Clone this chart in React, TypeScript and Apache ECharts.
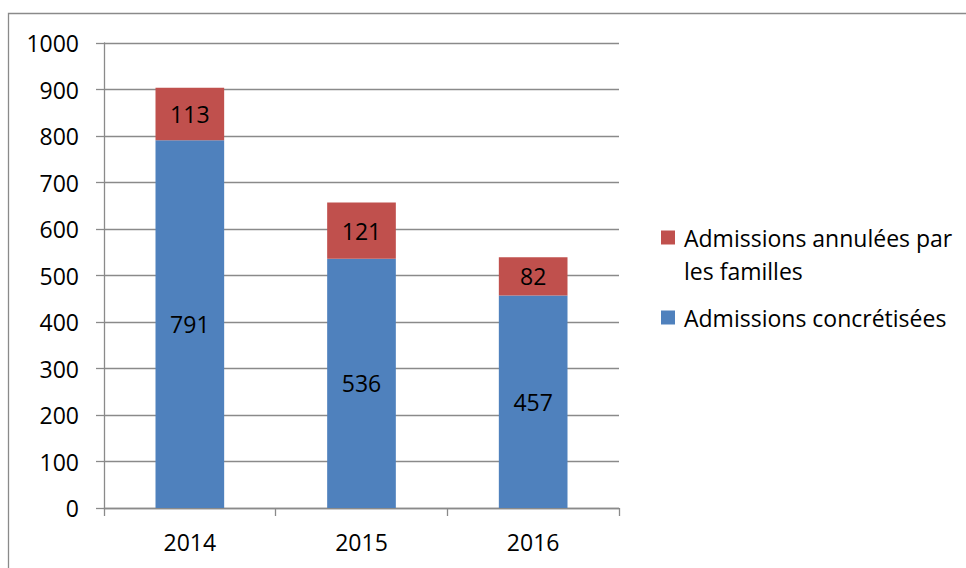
import React, { useEffect, useRef } from "react";
import * as echarts from "echarts";

const categories = ["2014", "2015", "2016"];
const concretisees = [791, 536, 457];
const annulees = [113, 121, 82];
const nameAnnulees = "Admissions annulées par les familles";
const nameConcretisees = "Admissions concrétisées";

const FONT = "'Open Sans', sans-serif";
const FS = 23;
const GRAY = "#8a8a8a";
const LH = 33;

export default function App() {
  const ref = useRef<HTMLDivElement>(null);
  useEffect(() => {
    if (!ref.current) return;
    const chart = echarts.init(ref.current, null, { renderer: "svg" });
    chart.setOption({
      animation: false,
      backgroundColor: "#ffffff",
      textStyle: { fontFamily: FONT, color: "#000" },
      graphic: [
        {
          type: "rect",
          shape: { x: 8.5, y: 13.5, width: 1200, height: 1200 },
          style: { fill: "none", stroke: GRAY, lineWidth: 1.3 },
          silent: true,
        },
      ],
      grid: { left: 104, top: 43, right: 347, bottom: 60, containLabel: false },
      legend: [
        {
          data: [nameAnnulees],
          orient: "vertical",
          left: 661,
          top: 188,
          padding: 0,
          itemWidth: 14,
          itemHeight: 14,
          icon: "rect",
          formatter: (n: string) => "\n" + n.replace(" les", "\nles"),
          textStyle: {
            fontFamily: FONT,
            fontSize: FS,
            color: "#000",
            lineHeight: LH,
            padding: [0, 0, 0, 4],
          },
        },
        {
          data: [nameConcretisees],
          orient: "vertical",
          left: 661,
          top: 301,
          padding: 0,
          itemWidth: 14,
          itemHeight: 14,
          icon: "rect",
          textStyle: {
            fontFamily: FONT,
            fontSize: FS,
            color: "#000",
            lineHeight: LH,
            padding: [0, 0, 0, 4],
          },
        },
      ],
      xAxis: {
        type: "category",
        data: categories,
        boundaryGap: true,
        axisLine: { show: true, lineStyle: { color: GRAY, width: 1.3 } },
        axisTick: { show: true, length: 8, lineStyle: { color: GRAY, width: 1.3 } },
        axisLabel: { fontFamily: FONT, fontSize: FS, color: "#000", margin: 22 },
      },
      yAxis: {
        type: "value",
        min: 0,
        max: 1000,
        interval: 100,
        axisLine: { show: true, lineStyle: { color: GRAY, width: 1.3 } },
        axisTick: { show: true, length: 8, lineStyle: { color: GRAY, width: 1.3 } },
        splitLine: { show: true, lineStyle: { color: GRAY, width: 1.3 } },
        axisLabel: {
          fontFamily: FONT,
          fontSize: FS,
          color: "#000",
          margin: 25,
          formatter: (v: number) => String(v),
        },
      },
      series: [
        {
          name: nameConcretisees,
          type: "bar",
          stack: "total",
          data: concretisees,
          barCategoryGap: "60%",
          itemStyle: { color: "#4F81BD" },
          label: { show: true, position: "inside", color: "#000", fontFamily: FONT, fontSize: FS },
        },
        {
          name: nameAnnulees,
          type: "bar",
          stack: "total",
          data: annulees,
          barCategoryGap: "60%",
          itemStyle: { color: "#C0504D" },
          label: { show: true, position: "inside", color: "#000", fontFamily: FONT, fontSize: FS },
        },
      ],
    });
    return () => chart.dispose();
  }, []);
  return (
    <div
      ref={ref}
      style={{ position: "fixed", left: 0, top: 0, width: 966, height: 568 }}
    />
  );
}
